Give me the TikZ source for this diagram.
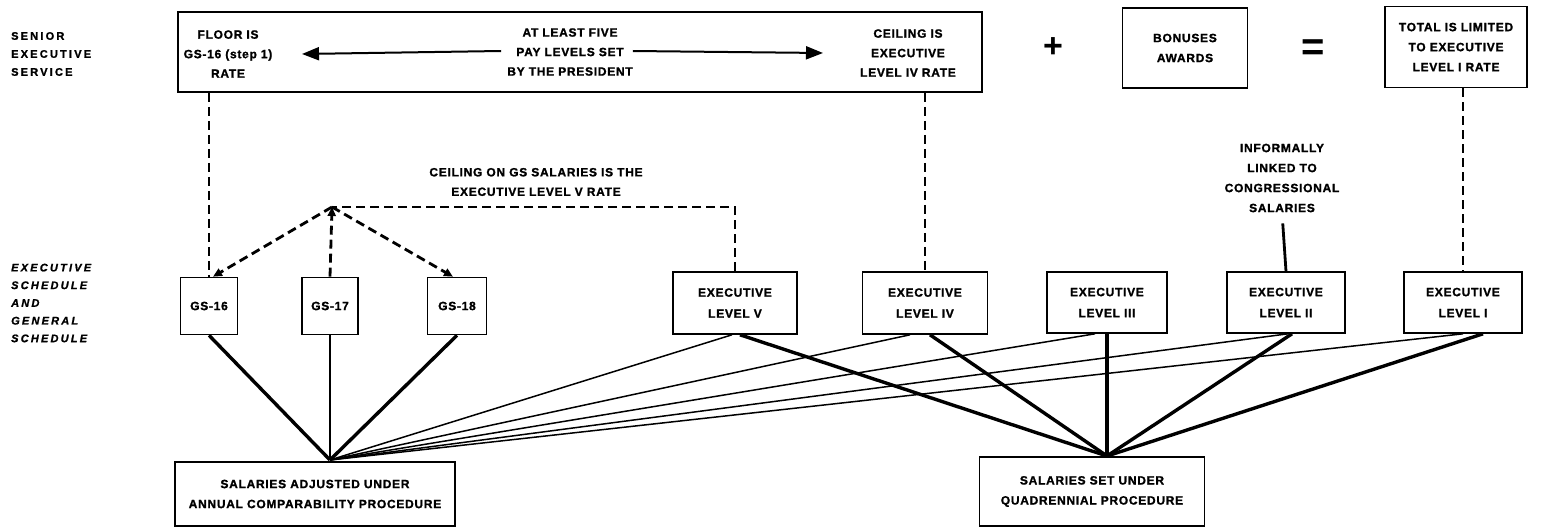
\documentclass[tikz,border=0pt]{standalone}
\usepackage{fontspec}
\setmainfont{Liberation Sans}
\newfontfamily\lblfont[LetterSpace=6, BoldFeatures={FakeBold=1.3}]{Liberation Sans}
\newfontfamily\widefont[LetterSpace=20, BoldFeatures={FakeBold=1.3}, BoldItalicFeatures={FakeBold=1.3}]{Liberation Sans}
\usetikzlibrary{arrows.meta}
\begin{document}
\begin{tikzpicture}[x=1pt,y=-1pt,
  lbl/.style={font=\lblfont\bfseries\fontsize{12}{19.5}\selectfont, align=center, inner sep=0pt},
  side/.style={font=\widefont\bfseries\fontsize{11}{18}\selectfont, align=left, inner sep=0pt, anchor=west},
  boxn/.style={draw, line width=1.6pt, inner sep=0pt, align=center, font=\lblfont\bfseries\fontsize{12}{20}\selectfont},
  exbox/.style={boxn, font=\lblfont\bfseries\fontsize{12}{21}\selectfont},
  dsh/.style={line width=2.8pt, dash pattern=on 9pt off 5pt},
  dtip/.style={-{Triangle[length=9pt,width=8pt]}},
  thinl/.style={line width=1.5pt},
  thickl/.style={line width=3.4pt},
  bigtip/.style={-{Triangle[length=17pt,width=13pt]}, line width=2pt}
]
\fill[white] (0,0) rectangle (1543,527);
\useasboundingbox (0,0) rectangle (1543,527);

% side labels
\node[side] (ses) at (11,54) {SENIOR\\EXECUTIVE\\SERVICE};
\node[side, font=\widefont\bfseries\itshape\fontsize{11}{17.7}\selectfont] (esgs) at (11,303) {EXECUTIVE\\SCHEDULE\\AND\\GENERAL\\SCHEDULE};

% top row
\node[boxn, minimum width=804pt, minimum height=80pt] (top) at (580,52) {};
\node[lbl] (floor) at (228,54) {FLOOR IS\\GS-16 (step 1)\\RATE};
\node[lbl] (mid) at (570,52) {AT LEAST FIVE\\PAY LEVELS SET\\BY THE PRESIDENT};
\node[lbl] (ceil) at (908,53) {CEILING IS\\EXECUTIVE\\LEVEL IV RATE};
\coordinate (lt) at (302,54);
\coordinate (rt) at (823,53);
\draw[bigtip] ([xshift=-6pt,yshift=1pt]mid.west) -- (lt);
\draw[bigtip] ([yshift=1pt]mid.east) -- (rt);

\node[font=\bfseries\fontsize{34}{34}\selectfont, inner sep=0pt] (plus) at (1053,48) {+};
\node[boxn, minimum width=125pt, minimum height=80pt] (bon) at (1185,48) {BONUSES\\AWARDS};
\node[font=\bfseries\fontsize{40}{40}\selectfont, inner sep=0pt] (eq) at (1313,50) {=};
\node[boxn, minimum width=142pt, minimum height=81pt] (tot) at (1456,47) {TOTAL IS LIMITED\\TO EXECUTIVE\\LEVEL I RATE};

% middle row
\node[boxn, minimum width=57pt, minimum height=57pt] (gs16) at (209,306) {GS-16};
\node[boxn, minimum width=56pt, minimum height=57pt] (gs17) at (330,306) {GS-17};
\node[boxn, minimum width=59pt, minimum height=57pt] (gs18) at (457,306) {GS-18};
\node[exbox, minimum width=124pt, minimum height=62pt] (exV) at (735,303) {EXECUTIVE\\LEVEL V};
\node[exbox, minimum width=125pt, minimum height=62pt] (exIV) at (925,303) {EXECUTIVE\\LEVEL IV};
\node[exbox, minimum width=120pt, minimum height=61pt] (exIII) at (1107,302.5) {EXECUTIVE\\LEVEL III};
\node[exbox, minimum width=118pt, minimum height=61pt] (exII) at (1286,302.5) {EXECUTIVE\\LEVEL II};
\node[exbox, minimum width=118pt, minimum height=61pt] (exI) at (1463,302.5) {EXECUTIVE\\LEVEL I};

\node[lbl] (ceilgs) at (536,182) {CEILING ON GS SALARIES IS THE\\EXECUTIVE LEVEL V RATE};
\node[lbl, font=\lblfont\bfseries\fontsize{12}{20}\selectfont] (inf) at (1282,178) {INFORMALLY\\LINKED TO\\CONGRESSIONAL\\SALARIES};

% bottom row
\node[boxn, minimum width=280pt, minimum height=64pt] (ann) at (315,494) {SALARIES ADJUSTED UNDER\\ANNUAL COMPARABILITY PROCEDURE};
\node[boxn, minimum width=225pt, minimum height=69pt] (quad) at (1092,491.5) {SALARIES SET UNDER\\QUADRENNIAL PROCEDURE};
\coordinate (A) at (330,460);
\coordinate (Q) at (1107,456);

% dashed links
\coordinate (apex) at (332,207);
\draw[dsh] (top.south -| gs16.north) -- (gs16.north);
\draw[dsh, dtip] (apex) -- ([xshift=4pt]gs16.north);
\draw[dsh, dtip] (gs17.north) -- (apex);
\draw[dsh, dtip] (apex) -- ([xshift=-4pt]gs18.north);
\draw[dsh] (exV.north) |- (apex);
\draw[dsh] (top.south -| exIV.north) -- (exIV.north);
\draw[dsh] (tot.south -| exI.north) -- (exI.north);
\draw[line width=2.8pt, shorten <=11pt] (inf.south) -- (exII.north);

% annual fan
\draw[thickl] (gs16.south) -- (A);
\draw[line width=2.4pt] (gs17.south) -- (A);
\draw[thickl] (gs18.south) -- (A);
\draw[thinl] ([xshift=-3pt]exV.south) -- (A);
\draw[thinl] ([xshift=-15pt]exIV.south) -- (A);
\draw[thinl] ([xshift=-12pt]exIII.south) -- (A);
\draw[thinl] ([xshift=2pt]exII.south) -- (A);
\draw[thinl] ([xshift=0pt]exI.south) -- (A);

% quadrennial fan
\draw[thickl] ([xshift=5pt]exV.south) -- (Q);
\draw[thickl] ([xshift=5pt]exIV.south) -- (Q);
\draw[thickl] (exIII.south) -- (Q);
\draw[thickl] ([xshift=6pt]exII.south) -- (Q);
\draw[thickl] ([xshift=20pt]exI.south) -- (Q);
\end{tikzpicture}
\end{document}
